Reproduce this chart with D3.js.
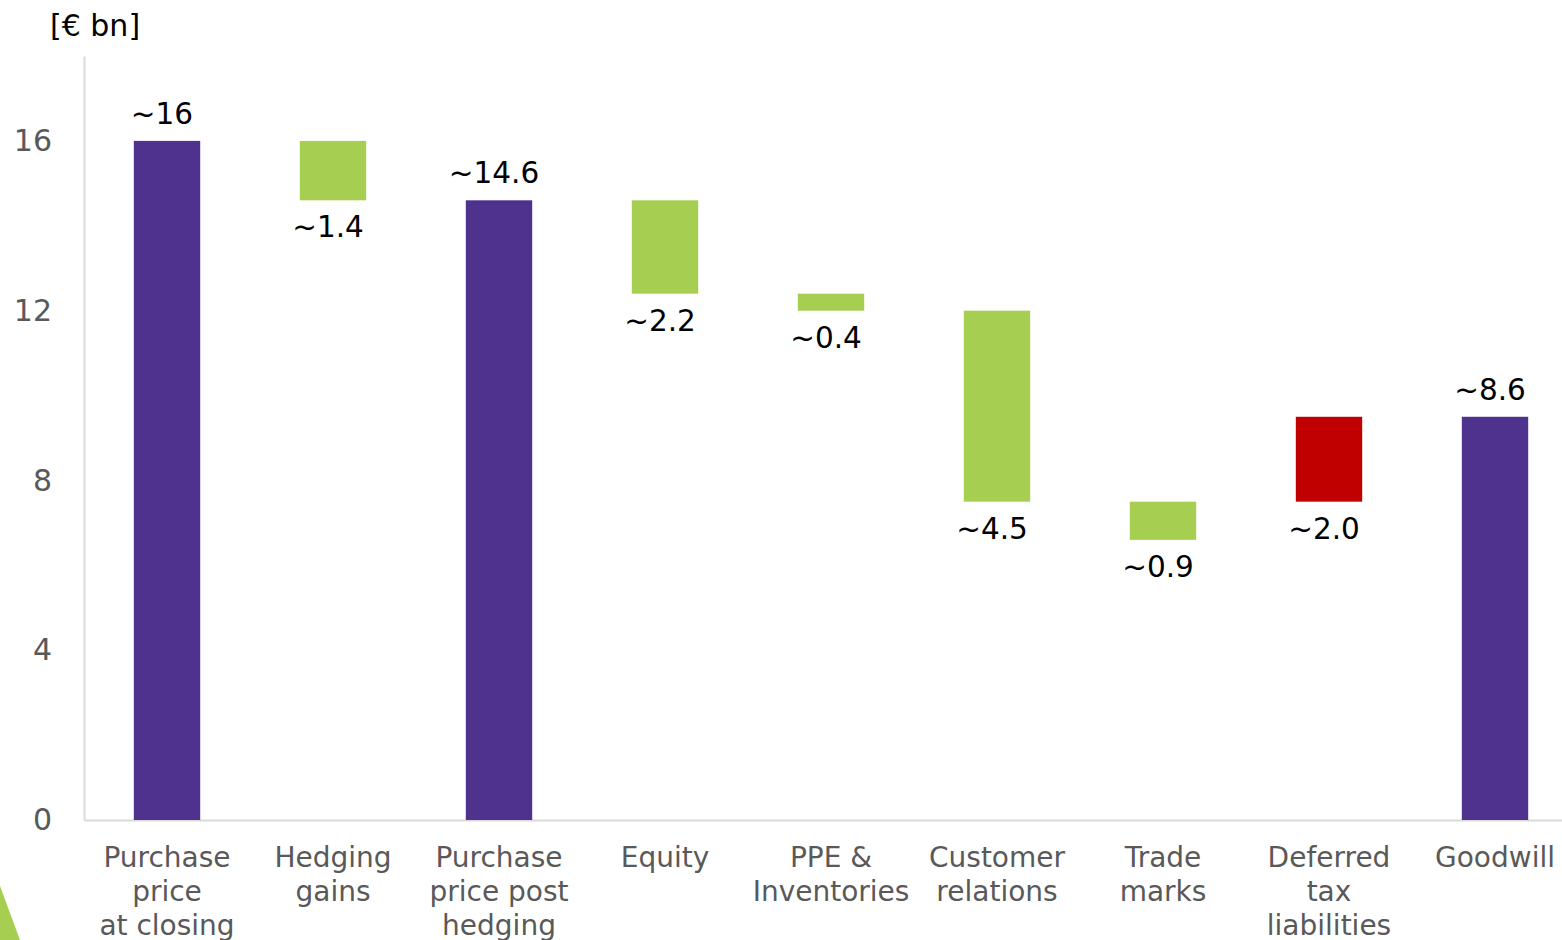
<!DOCTYPE html>
<html>
<head>
<meta charset="utf-8">
<script src="https://cdn.jsdelivr.net/npm/d3@7"></script>
<style>
  body { margin: 0; background: #fff; }
  svg { display: block; font-family: "DejaVu Sans", Verdana, sans-serif; }
  .axis path { stroke: #d9d9d9; stroke-width: 2; }
  .axis text { fill: #595959; font-family: "DejaVu Sans", Verdana, sans-serif; }
</style>
</head>
<body>
<div id="chart"></div>
<script>
// chart data
var categories = ["Purchase\nprice\nat closing", "Hedging\ngains", "Purchase\nprice post\nhedging",
    "Equity", "PPE &\nInventories", "Customer\nrelations", "Trade\nmarks", "Deferred\ntax\nliabilities", "Goodwill"];
var barStart = [0, 16, 0, 14.6, 12.4, 12.0, 7.5, 7.5, 0];
var barEnd = [16, 14.6, 14.6, 12.4, 12.0, 7.5, 6.6, 9.5, 9.5];
var barType = ["total", "decrease", "total", "decrease", "decrease", "decrease", "decrease", "increase", "total"];
var valueLabels = ["~16", "~1.4", "~14.6", "~2.2", "~0.4", "~4.5", "~0.9", "~2.0", "~8.6"];
var yTicks = [0, 4, 8, 12, 16];

var colors = { total: "#4f328d", decrease: "#a6ce50", increase: "#c00000" };

var width = 1562, height = 940;
var margin = { top: 56, left: 84, bottom: 120 };
var plotBottom = height - margin.bottom;

var svg = d3.select("#chart").append("svg")
    .attr("width", width)
    .attr("height", height);

var data = categories.map(function(c, i) {
    return { cat: c, start: barStart[i], end: barEnd[i], type: barType[i], label: valueLabels[i] };
});

var x = d3.scaleBand()
    .domain(categories)
    .range([margin.left, margin.left + 9 * 166])
    .paddingInner(0.6)
    .paddingOuter(0.3);

var y = d3.scaleLinear()
    .domain([0, 18])
    .range([plotBottom, margin.top]);

// y axis
var yAxis = svg.append("g")
    .attr("class", "axis")
    .attr("transform", "translate(" + margin.left + ",0)")
    .call(d3.axisLeft(y).tickValues(yTicks).tickSize(0).tickPadding(32).tickSizeOuter(0));
yAxis.selectAll("text").style("font-size", "30px");

// x axis
var xAxis = svg.append("g")
    .attr("class", "axis")
    .attr("transform", "translate(0," + plotBottom + ")")
    .call(d3.axisBottom(x).tickSize(0).tickSizeOuter(0).tickFormat(""));

xAxis.selectAll(".tick").append("text")
    .style("font-size", "28px")
    .attr("text-anchor", "middle")
    .attr("fill", "#595959")
    .each(function(d) {
        var lines = d.split("\n");
        var t = d3.select(this);
        lines.forEach(function(l, i) {
            t.append("tspan").attr("x", 0).attr("y", 47 + i * 34).text(l);
        });
    });

// bars
svg.append("g").selectAll("rect")
    .data(data)
    .enter().append("rect")
    .attr("x", function(d) { return x(d.cat); })
    .attr("width", x.bandwidth())
    .attr("y", function(d) { return y(Math.max(d.start, d.end)); })
    .attr("height", function(d) { return Math.abs(y(d.start) - y(d.end)); })
    .attr("fill", function(d) { return colors[d.type]; });

// value labels
svg.append("g").selectAll("text")
    .data(data)
    .enter().append("text")
    .attr("x", function(d) { return x(d.cat) + x.bandwidth() / 2 - 5; })
    .attr("y", function(d) {
        if (d.type === "total") return y(Math.max(d.start, d.end)) - 17;
        return y(Math.min(d.start, d.end)) + 37;
    })
    .attr("text-anchor", "middle")
    .style("font-size", "29.5px")
    .attr("fill", "#000")
    .text(function(d) { return d.label; });

// unit label
svg.append("text")
    .attr("x", 50)
    .attr("y", 36)
    .style("font-size", "30px")
    .attr("fill", "#000")
    .text("[€ bn]");

// decorative corner triangle
svg.append("polygon")
    .attr("points", "0,886 20,940 0,940")
    .attr("fill", "#a6ce50");
</script>
</body>
</html>
